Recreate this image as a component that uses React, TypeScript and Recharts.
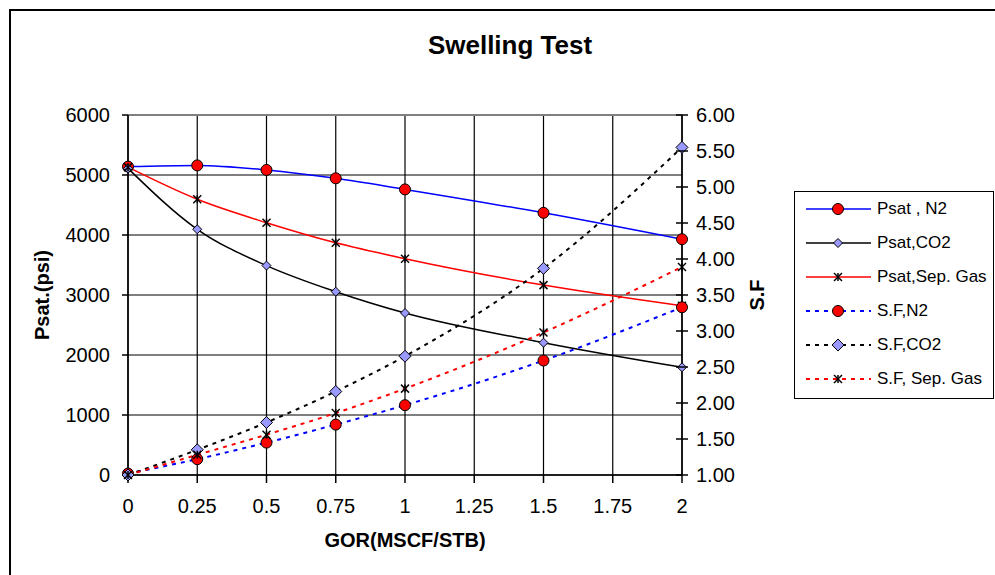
import React from 'react'
import { LineChart, Line, XAxis, YAxis, CartesianGrid, ReferenceLine, Label } from 'recharts'

// GOR (MSCF/STB) sample points
const GOR = [0, 0.25, 0.5, 0.75, 1, 1.5, 2]

// saturation pressure, psi
const PSAT_N2 = [5140, 5160, 5085, 4945, 4760, 4370, 3930]
const PSAT_CO2 = [5110, 4095, 3490, 3055, 2700, 2205, 1795]
const PSAT_SEP = [5130, 4595, 4205, 3870, 3605, 3165, 2820]

// swelling factor
const SF_N2 = [1.02, 1.22, 1.45, 1.7, 1.97, 2.59, 3.33]
const SF_CO2 = [1.0, 1.35, 1.73, 2.16, 2.65, 3.87, 5.55]
const SF_SEP = [1.0, 1.28, 1.56, 1.86, 2.2, 2.98, 3.89]

const X_TICKS = [0, 0.25, 0.5, 0.75, 1, 1.25, 1.5, 1.75, 2]
const PSAT_TICKS = [0, 1000, 2000, 3000, 4000, 5000, 6000]
const SF_TICKS = [1, 1.5, 2, 2.5, 3, 3.5, 4, 4.5, 5, 5.5, 6]

const data = GOR.map((g, i) => ({
  gor: g,
  psatN2: PSAT_N2[i],
  psatCO2: PSAT_CO2[i],
  psatSep: PSAT_SEP[i],
  sfN2: SF_N2[i],
  sfCO2: SF_CO2[i],
  sfSep: SF_SEP[i],
}))

type MarkerKind = 'circle' | 'diamond' | 'star'

const SERIES: {
  key: string
  name: string
  axis: 'left' | 'right'
  stroke: string
  dash?: string
  marker: MarkerKind
  size: number
}[] = [
  { key: 'psatN2', name: 'Psat , N2', axis: 'left', stroke: '#0000FF', marker: 'circle', size: 5.5 },
  { key: 'psatCO2', name: 'Psat,CO2', axis: 'left', stroke: '#000000', marker: 'diamond', size: 4.5 },
  { key: 'psatSep', name: 'Psat,Sep. Gas', axis: 'left', stroke: '#FF0000', marker: 'star', size: 4 },
  { key: 'sfN2', name: 'S.F,N2', axis: 'right', stroke: '#0000FF', dash: '4 5', marker: 'circle', size: 5.5 },
  { key: 'sfCO2', name: 'S.F,CO2', axis: 'right', stroke: '#000000', dash: '4 5', marker: 'diamond', size: 6 },
  { key: 'sfSep', name: 'S.F, Sep. Gas', axis: 'right', stroke: '#FF0000', dash: '4 5', marker: 'star', size: 4 },
]

function Marker({ kind, cx, cy, size }: { kind: MarkerKind; cx: number; cy: number; size: number }) {
  if (kind === 'circle') {
    return <circle cx={cx} cy={cy} r={size} fill="#FF0000" stroke="#000" strokeWidth={1} />
  }
  if (kind === 'diamond') {
    const pts = `${cx},${cy - size} ${cx + size},${cy} ${cx},${cy + size} ${cx - size},${cy}`
    return <polygon points={pts} fill="#9999FF" stroke="#000" strokeWidth={1} />
  }
  return (
    <g stroke="#000" strokeWidth={1.5}>
      <line x1={cx - size} y1={cy - size} x2={cx + size} y2={cy + size} />
      <line x1={cx - size} y1={cy + size} x2={cx + size} y2={cy - size} />
      <line x1={cx} y1={cy - size} x2={cx} y2={cy + size} />
    </g>
  )
}

function SfTick(props: any) {
  const { x, y, payload } = props
  return (
    <g>
      <line x1={x - 6} x2={x + 6} y1={y} y2={y} stroke="#000" strokeWidth={1.5} />
      <text x={x + 14} y={y} dy="0.35em" fontSize={20} fill="#000">
        {Number(payload.value).toFixed(2)}
      </text>
    </g>
  )
}

function LegendBox() {
  return (
    <div
      style={{
        position: 'absolute', left: 794, top: 191, width: 198, height: 206,
        border: '1px solid #000', background: '#fff',
      }}
    >
      {SERIES.map((s, i) => (
        <div
          key={s.key}
          style={{
            position: 'absolute', left: 11, top: 4 + i * 34, height: 26,
            display: 'flex', alignItems: 'center', fontSize: 17, whiteSpace: 'nowrap',
          }}
        >
          <svg width={66} height={20} style={{ marginRight: 5 }}>
            <line x1={0} x2={65} y1={10} y2={10} stroke={s.stroke} strokeWidth={s.dash ? 2 : 1.5}
              strokeDasharray={s.dash} />
            <Marker kind={s.marker} cx={32} cy={10} size={s.size} />
          </svg>
          <span>{s.name}</span>
        </div>
      ))}
    </div>
  )
}

export default function App() {
  return (
    <div
      style={{
        position: 'absolute', left: 0, top: 0, width: 995, height: 575, overflow: 'hidden',
        background: '#fff', fontFamily: '"Liberation Sans", Arial, sans-serif', color: '#000',
      }}
    >
      <div
        style={{
          position: 'absolute', left: 9, top: 9, width: 1100, height: 700,
          border: '2px solid #000',
        }}
      />
      <div
        style={{
          position: 'absolute', left: 310, top: 32, width: 400, textAlign: 'center',
          fontSize: 26, lineHeight: '26px', fontWeight: 'bold',
        }}
      >
        Swelling Test
      </div>
      <div style={{ position: 'absolute', left: 0, top: 0 }}>
        <LineChart
          width={995}
          height={575}
          data={data}
          margin={{ top: 115, right: 213, bottom: 0, left: 20 }}
        >
          <CartesianGrid yAxisId="left" stroke="#000" strokeWidth={1.2} />
          <XAxis
            dataKey="gor"
            type="number"
            domain={[0, 2]}
            ticks={X_TICKS}
            height={100}
            tickSize={8}
            tickMargin={16}
            tick={{ fill: '#000', fontSize: 20 }}
            axisLine={{ stroke: '#000', strokeWidth: 1.5 }}
            tickLine={{ stroke: '#000', strokeWidth: 1.5 }}
          >
            <Label
              value="GOR(MSCF/STB)"
              position="insideTop"
              offset={58}
              style={{ fontSize: 20, fontWeight: 'bold', fill: '#000' }}
            />
          </XAxis>
          <YAxis
            yAxisId="left"
            domain={[0, 6000]}
            ticks={PSAT_TICKS}
            width={108}
            tickSize={6}
            tickMargin={12}
            tick={{ fill: '#000', fontSize: 20 }}
            axisLine={{ stroke: '#000', strokeWidth: 1.5 }}
            tickLine={{ stroke: '#000', strokeWidth: 1.5 }}
          >
            <Label
              value="Psat.(psi)"
              angle={-90}
              position="insideLeft"
              offset={22}
              style={{ fontSize: 20, fontWeight: 'bold', fill: '#000', textAnchor: 'middle' }}
            />
          </YAxis>
          <YAxis
            yAxisId="right"
            orientation="right"
            domain={[1, 6]}
            ticks={SF_TICKS}
            width={100}
            tickSize={0}
            tickMargin={0}
            tickLine={false}
            tick={<SfTick />}
            axisLine={{ stroke: '#000', strokeWidth: 1.5 }}
          >
            <Label
              value="S.F"
              angle={-90}
              position="insideRight"
              offset={25}
              style={{ fontSize: 20, fontWeight: 'bold', fill: '#000', textAnchor: 'middle' }}
            />
          </YAxis>
          <ReferenceLine yAxisId="left" y={6000} stroke="#808080" strokeWidth={2} />
          {SERIES.map(s => (
            <Line
              key={s.key}
              yAxisId={s.axis}
              dataKey={s.key}
              name={s.name}
              type="monotone"
              stroke={s.stroke}
              strokeWidth={s.dash ? 2 : 1.5}
              strokeDasharray={s.dash}
              isAnimationActive={false}
              activeDot={false}
              dot={(p: any) => (
                <Marker key={`${s.key}-${p.index}`} kind={s.marker} cx={p.cx} cy={p.cy} size={s.size} />
              )}
            />
          ))}
        </LineChart>
      </div>
      <LegendBox />
    </div>
  )
}
